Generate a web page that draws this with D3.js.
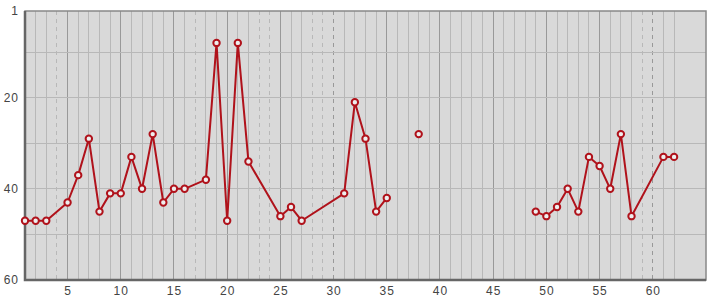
<!DOCTYPE html>
<html lang="en">
<head>
<meta charset="utf-8">
<title>Rank by day</title>
<style>
body { margin: 0; background: #fff; }
svg text { font-family: "Liberation Sans", Arial, sans-serif; font-size: 12px; fill: #444; }
</style>
</head>
<body>
<svg width="715" height="300"></svg>
<script src="https://cdn.jsdelivr.net/npm/d3@7"></script>
<script>

// observed days and their rank (lower is better)
var days  = [1, 2, 3, 5, 6, 7, 8, 9, 10, 11, 12, 13, 14, 15, 16, 18, 19, 20, 21, 22, 25, 26, 27, 31, 32, 33, 34, 35, 38, 49, 50, 51, 52, 53, 54, 55, 56, 57, 58, 61, 62];
var ranks = [47, 47, 47, 43, 37, 29, 45, 41, 41, 33, 40, 28, 43, 40, 40, 38, 8, 47, 8, 34, 46, 44, 47, 41, 21, 29, 45, 42, 28, 45, 46, 44, 40, 45, 33, 35, 40, 28, 46, 33, 33];
// the line is not drawn on from these days
var breakAfter = [35, 38];

var xDomain = [1, 65];
var yDomain = [1, 60];
var xTicks = [5, 10, 15, 20, 25, 30, 35, 40, 45, 50, 55, 60];
var yTicks = [1, 20, 40, 60];
var yGrid = [10, 20, 30, 40, 50];

var svg = d3.select("svg"),
    margin = {top: 11, right: 9, bottom: 20, left: 25},
    width = +svg.attr("width") - margin.left - margin.right,
    height = +svg.attr("height") - margin.top - margin.bottom;

var x = d3.scaleLinear().domain(xDomain).range([0, width]);
var y = d3.scaleLinear().domain(yDomain).range([0, height]);

var g = svg.append("g").attr("transform", "translate(" + margin.left + "," + margin.top + ")");

g.append("rect")
    .attr("width", width)
    .attr("height", height)
    .attr("fill", "#d9d9d9");

// days skipped inside a joined stretch get a dashed gridline
var dashed = [];
for (var i = 0; i < days.length - 1; i++) {
  if (breakAfter.indexOf(days[i]) >= 0) continue;
  for (var k = days[i] + 1; k < days[i + 1]; k++) dashed.push(k);
}

var lastDay = d3.max(days);
g.selectAll(".vgrid")
    .data(d3.range(2, lastDay + 1))
  .enter().append("line")
    .attr("class", "vgrid")
    .attr("x1", function(d) { return x(d); })
    .attr("x2", function(d) { return x(d); })
    .attr("y1", 0)
    .attr("y2", height)
    .attr("stroke", function(d) { return d % 5 == 0 ? "#999" : "#b8b8b8"; })
    .attr("stroke-width", 1)
    .attr("stroke-dasharray", function(d) { return dashed.indexOf(d) >= 0 ? "4,4" : null; })
    .attr("shape-rendering", "crispEdges");

g.selectAll(".hgrid")
    .data(yGrid)
  .enter().append("line")
    .attr("class", "hgrid")
    .attr("x1", 0)
    .attr("x2", width)
    .attr("y1", function(d) { return y(d); })
    .attr("y2", function(d) { return y(d); })
    .attr("stroke", "#b8b8b8")
    .attr("shape-rendering", "crispEdges");

// frame
g.append("rect")
    .attr("width", width)
    .attr("height", height)
    .attr("fill", "none")
    .attr("stroke", "#888")
    .attr("stroke-width", 1.5);
g.append("path")
    .attr("d", "M0,0V" + height + "H" + width)
    .attr("fill", "none")
    .attr("stroke", "#666")
    .attr("stroke-width", 2.5);

// axes
var xAxis = g.append("g")
    .attr("transform", "translate(0," + height + ")")
    .call(d3.axisBottom(x).tickValues(xTicks).tickSize(0).tickPadding(6));
xAxis.select(".domain").remove();
xAxis.selectAll("text").attr("fill", "#444").style("font-size", "12px").style("letter-spacing", "1px");

var yAxis = g.append("g")
    .call(d3.axisLeft(y).tickValues(yTicks).tickSize(0).tickPadding(6));
yAxis.select(".domain").remove();
yAxis.selectAll("text").attr("fill", "#444").style("font-size", "12px").style("letter-spacing", "1px");

var pts = days.map(function(d, i) { return {day: d, rank: ranks[i]}; });

var line = d3.line()
    .defined(function(d) { return d != null; })
    .x(function(d) { return x(d.day); })
    .y(function(d) { return y(d.rank); });

var withBreaks = [];
pts.forEach(function(p) {
  withBreaks.push(p);
  if (breakAfter.indexOf(p.day) >= 0) withBreaks.push(null);
});

g.append("path")
    .datum(withBreaks)
    .attr("d", line)
    .attr("fill", "none")
    .attr("stroke", "#b0121b")
    .attr("stroke-width", 2)
    .attr("stroke-linejoin", "round");

g.selectAll(".dot")
    .data(pts)
  .enter().append("circle")
    .attr("class", "dot")
    .attr("cx", function(d) { return x(d.day); })
    .attr("cy", function(d) { return y(d.rank); })
    .attr("r", 3.2)
    .attr("fill", "#eee")
    .attr("stroke", "#b0121b")
    .attr("stroke-width", 2);

</script>
</body>
</html>
